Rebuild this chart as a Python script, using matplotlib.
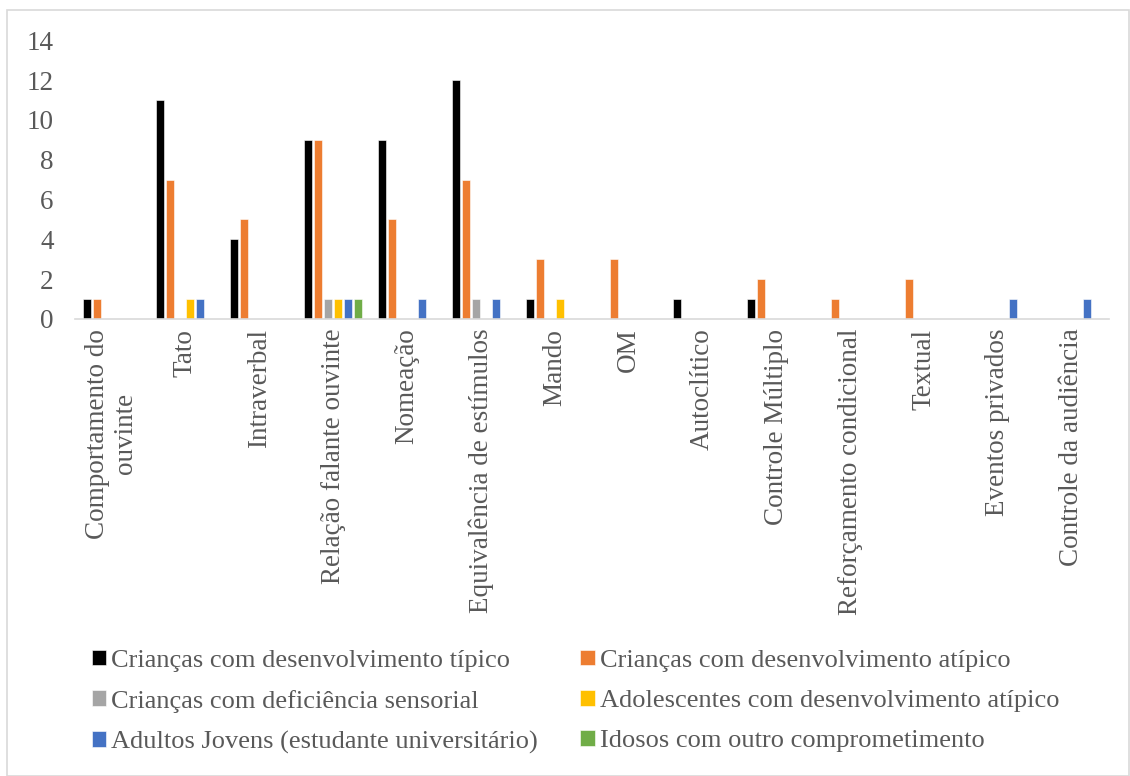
import matplotlib
matplotlib.use('Agg')
import matplotlib.pyplot as plt
import numpy as np
from matplotlib.patches import Rectangle

plt.rcParams['font.family'] = ['Liberation Serif', 'DejaVu Serif']

categories = ['Comportamento do\nouvinte', 'Tato', 'Intraverbal', 'Relação falante ouvinte',
              'Nomeação', 'Equivalência de estímulos', 'Mando', 'OM', 'Autoclítico',
              'Controle Múltiplo', 'Reforçamento condicional', 'Textual',
              'Eventos privados', 'Controle da audiência']

series_names = ['Crianças com desenvolvimento típico',
                'Crianças com desenvolvimento atípico',
                'Crianças com deficiência sensorial',
                'Adolescentes com desenvolvimento atípico',
                'Adultos Jovens (estudante universitário)',
                'Idosos com outro comprometimento']
colors = ['#000000', '#ED7D31', '#A5A5A5', '#FFC000', '#4472C4', '#70AD47']

tipico     = [1, 11, 4, 9, 9, 12, 1, 0, 1, 1, 0, 0, 0, 0]
atipico    = [1, 7, 5, 9, 5, 7, 3, 3, 0, 2, 1, 2, 0, 0]
sensorial  = [0, 0, 0, 1, 0, 1, 0, 0, 0, 0, 0, 0, 0, 0]
adolesc    = [0, 1, 0, 1, 0, 0, 1, 0, 0, 0, 0, 0, 0, 0]
adultos    = [0, 1, 0, 1, 1, 1, 0, 0, 0, 0, 0, 0, 1, 1]
idosos     = [0, 0, 0, 1, 0, 0, 0, 0, 0, 0, 0, 0, 0, 0]
values = [tipico, atipico, sensorial, adolesc, adultos, idosos]

fig = plt.figure(figsize=(11.3, 7.76), dpi=100)
ax = fig.add_axes([0.066, 0.589, 0.915, 0.359])

x = np.arange(len(categories))
step = 0.135
width = 0.108
for i, (vals, name, c) in enumerate(zip(values, series_names, colors)):
    ax.bar(x + (i - 2.5) * step, vals, width, color=c, label=name,
           edgecolor='white', linewidth=0.4)

ax.set_xlim(-0.5, len(categories) - 0.5)
ax.set_ylim(0, 14)
ax.set_yticks(range(0, 15, 2))
ax.set_xticks(x)
ax.set_xticklabels(categories, rotation=90, va='top', ha='center', multialignment='center')
ax.tick_params(axis='both', length=0, labelsize=19.5, labelcolor='#595959')
ax.tick_params(axis='y', pad=15)
ax.tick_params(axis='x', pad=7)
for s in ['top', 'right', 'left']:
    ax.spines[s].set_visible(False)
ax.spines['bottom'].set_color('#D9D9D9')
ax.spines['bottom'].set_linewidth(1.2)

# legend is filled column by column, so reorder to read row by row
handles, labels = ax.get_legend_handles_labels()
order = [0, 2, 4, 1, 3, 5]
fig.legend([handles[k] for k in order], [labels[k] for k in order], ncol=2,
           loc='upper left', bbox_to_anchor=(0.081, 0.163), frameon=False, fontsize=19,
           handlelength=0.55, handleheight=0.55, handletextpad=0.2, borderpad=0,
           borderaxespad=0, columnspacing=1.6, labelspacing=0.68, labelcolor='#595959')

fig.patches.append(Rectangle((0.006, 0.0), 0.993, 0.987, transform=fig.transFigure,
                             fill=False, edgecolor='#D9D9D9', linewidth=1.2))

fig.savefig('out.png', dpi=100)
